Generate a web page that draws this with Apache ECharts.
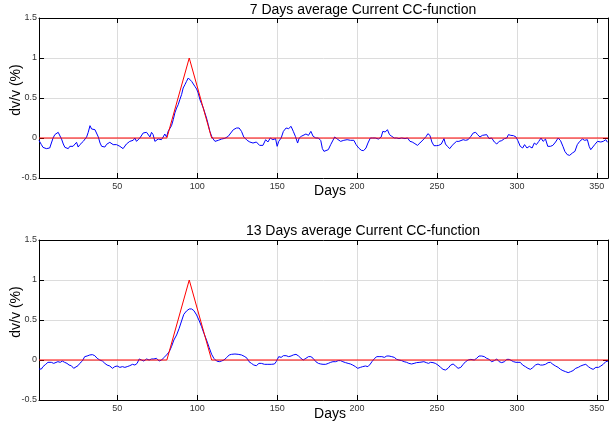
<!DOCTYPE html>
<html>
<head>
<meta charset="utf-8">
<script src="https://cdn.jsdelivr.net/npm/echarts@6/dist/echarts.min.js"></script>
<style>
html,body{margin:0;padding:0;background:#fff;}
#chart{width:609px;height:427px;}
</style>
</head>
<body>
<div id="chart"></div>
<script>
// ---- data ----
var titles = ['7 Days average Current CC-function', '13 Days average Current CC-function'];
var xLabel = 'Days';
var yLabel = 'dv/v (%)';
var xTicks = [50, 100, 150, 200, 250, 300, 350];
var yTicks = [-0.5, 0, 0.5, 1, 1.5];

var refDays = [1, 81, 95, 109, 357];
var refVals = [0, 0, 1, 0, 0];

var topDays = [1,2.5,3.5,5.6,7.7,8.8,9.8,10.9,13,14,15.1,16.2,17.2,19.3,20.3,21.4,22.3,23.4,24.5,25.5,26.6,28.7,30.8,31.8,32.9,33.9,36,37,38.1,39.2,40.2,41.1,42.2,43.3,44.3,45.3,46.3,47.4,49.5,50.5,51.6,52.6,53.6,54.7,55.7,56.8,57.8,58.9,59.9,61,62,63,64.1,65.1,66.2,67.2,68.3,69.3,70.4,71.4,72.4,73.5,74.5,75.6,76.6,77.6,78.7,79.7,80.8,81.8,82.9,83.9,85,86,87.1,88.1,89.1,90.2,91.2,92.3,93.3,94.4,95.4,96.5,97.5,98.5,99.6,100.6,101.7,102.7,103.8,104.8,105.8,106.9,107.9,109,110,111.1,112.1,113.2,114.2,115.2,116.3,117.3,118.4,119.4,120.5,121.5,122.6,124.6,126.2,127.7,129.1,130.2,131.2,132.9,134.9,137,139,140.1,141.1,142.8,144.2,145.7,147.3,149,150,151,152.5,153.9,155.6,157.2,158.7,160.1,161.4,162.8,163.8,165.1,166.3,168,169.6,171.1,172.5,174.2,175.8,177.3,178.3,179.3,180.4,182,183.5,184.5,186,187.6,189.7,191.7,193.8,195.9,198,199.4,201,202.7,204.1,205.6,206.8,208.3,209.7,211.4,213.4,215.1,216.1,217.6,219,220.3,221.7,223.3,224.8,226.2,227.9,230,231.6,233.1,234.5,236.2,237.8,239.3,240.1,241.8,243.3,244.3,245.6,246.8,248.1,249.6,251.1,252.7,254.4,255.3,256.5,258,259.5,260.7,262.2,263.7,264.9,266.4,267.9,269.5,271.2,272.7,274.2,275.4,276.9,278.4,279.6,281.1,282.6,284.2,285.9,287.4,288.9,290.5,292.2,293.7,294.7,296.2,297.9,299.4,300.6,302.1,303.6,304.8,306.3,307.8,309.5,310.9,312.2,313.7,315.1,316.4,317.9,319.3,321,322.5,324.2,325.8,327.3,328.8,330,331.5,333,334.7,336.3,337.8,339.3,341,342.4,344.1,345.2,346.2,347.3,348.7,350.4,351.4,352.5,354,355.6,356.7,357];
var topVals = [-0.03,-0.083,-0.117,-0.133,-0.125,-0.113,0,0.042,0.071,0.054,-0.013,-0.075,-0.117,-0.133,-0.104,-0.117,-0.104,-0.083,-0.054,-0.113,-0.083,-0.042,0.013,0.071,0.154,0.113,0.104,0.083,0.013,-0.063,-0.104,-0.096,-0.113,-0.079,-0.083,-0.054,-0.042,-0.083,-0.083,-0.104,-0.104,-0.083,-0.133,-0.113,-0.075,-0.054,-0.042,-0.063,-0.029,0,-0.042,-0.021,0,0.013,0.063,0.042,0.071,0.054,0.013,0.071,0.042,-0.042,-0.021,-0.013,-0.008,-0.021,0.013,0.05,0.013,0.083,0.104,0.154,0.229,0.313,0.375,0.417,0.479,0.542,0.625,0.667,0.708,0.75,0.738,0.708,0.688,0.646,0.613,0.563,0.479,0.429,0.375,0.313,0.25,0.167,0.083,0.021,-0.013,-0.042,-0.029,-0.029,-0.021,-0.013,-0.008,-0.004,0.013,0.021,0.05,0.063,0.104,0.125,0.125,0.083,0.013,0.013,-0.029,-0.05,-0.063,-0.05,-0.092,-0.117,-0.092,-0.021,-0.05,0,-0.021,-0.008,-0.104,-0.042,0,0.083,0.125,0.117,0.146,0.083,0.021,-0.063,0,0.021,0,0.05,0.033,0.083,0.021,0,0,-0.033,-0.133,-0.167,-0.146,-0.146,-0.083,-0.063,0.013,-0.013,-0.042,-0.029,-0.021,-0.029,-0.029,-0.083,-0.125,-0.154,-0.158,-0.125,-0.063,0,0,0,-0.013,0.013,0.083,0.075,0.104,0.042,0.021,0,0,-0.008,0,-0.008,0,-0.042,-0.05,-0.071,-0.092,-0.063,-0.042,-0.013,0.021,0.054,0.033,-0.05,-0.096,-0.096,-0.092,-0.075,-0.008,-0.075,-0.104,-0.133,-0.092,-0.117,-0.042,-0.042,-0.054,-0.021,-0.029,-0.021,0.021,0.063,0.071,0.042,0.013,0.033,0.029,0.042,-0.008,0,-0.05,-0.075,-0.042,-0.033,-0.008,0,0.042,0.033,0.029,0.013,-0.033,-0.104,-0.125,-0.083,-0.125,-0.104,-0.125,-0.063,-0.083,-0.042,0,-0.042,-0.013,-0.104,-0.104,-0.092,-0.05,0,-0.033,-0.104,-0.167,-0.208,-0.217,-0.188,-0.167,-0.083,-0.042,-0.013,-0.029,-0.021,-0.104,-0.146,-0.125,-0.083,-0.042,-0.054,-0.05,-0.042,-0.021,-0.054,-0.05];

var botDays = [1,2.5,3.5,5.2,6.6,8.7,10.2,11.4,12.8,14.3,15.6,17,18.5,19.8,21.2,22.7,23.9,25.4,26.5,28.1,29.6,31.1,32.8,34.4,35.9,37.4,39,40.7,42.2,43.6,45.3,47,48.4,49.9,51.6,53.2,54.7,56.2,57.8,59.5,61,62.4,63.7,65.1,66.6,68.3,69.9,71.4,72.9,74.5,76.2,77.7,79.1,80.8,82.5,83.9,85.4,87.1,88.7,90.2,91.6,93.3,95,96.5,97.9,99.6,101.3,102.7,104.2,105.8,107.5,109,110.4,112.1,113.8,115.2,116.7,118.4,120,121.5,123.6,125.6,127.7,129.8,131.2,132.4,133.9,135.4,137,138.6,140.1,142.1,144.2,146.3,148.3,149.4,151,152.5,153.9,155.6,157.2,158.7,160.1,161.8,163.4,164.9,166.3,168,169.6,171.1,172.5,174.2,175.8,177.3,178.7,180.4,182,183.5,184.9,186.6,188.2,189.7,191.1,192.8,194.4,195.9,197.3,199,200.4,202.1,203.5,205.2,206.8,208.3,209.3,211,212.4,213.8,215.5,217.1,218.6,220,221.7,223.3,224.8,226.2,227.9,229.5,231,232.4,234.1,235.7,237.2,239.3,241.8,243.3,244.7,246,247.5,249,250.6,252.3,253.8,255.3,256.9,258.6,260.1,261.6,263.2,264.9,266.4,267.9,269.5,271.2,272.1,273.3,274.8,276.3,278,279.6,281.1,282.6,284.2,285.9,287.4,288.9,290.5,292.2,293.7,295.2,296.4,297.9,299.4,300.6,302.1,303.6,305.3,306.9,308.4,309.9,311.6,313.2,314.7,316.2,317.9,319.5,321,322.5,324.2,325.8,327.3,328.8,330.5,332.1,333.6,335.1,336.8,338.4,339.9,341.4,343.1,344.7,346.2,347.7,349.4,351.1,352.5,354,355.6,357];
var botVals = [-0.113,-0.113,-0.083,-0.054,-0.029,-0.029,-0.042,-0.05,-0.021,-0.029,-0.013,-0.029,-0.042,-0.063,-0.071,-0.104,-0.113,-0.071,-0.042,-0.013,0.042,0.05,0.063,0.067,0.054,0.021,0,-0.013,-0.042,-0.063,-0.075,-0.104,-0.083,-0.075,-0.092,-0.083,-0.092,-0.083,-0.071,-0.054,-0.063,-0.042,0.013,0,-0.013,0.013,0,0.013,0.013,0.021,-0.013,0,0.029,0.063,0.104,0.167,0.25,0.313,0.396,0.488,0.571,0.613,0.638,0.638,0.617,0.563,0.488,0.417,0.333,0.25,0.154,0.071,0.021,-0.013,-0.021,-0.013,0,0.03,0.063,0.071,0.075,0.071,0.063,0.042,0.021,-0.021,-0.042,-0.063,-0.071,-0.042,-0.042,-0.054,-0.054,-0.054,-0.05,-0.021,0.042,0.033,0.054,0.054,0.042,0.05,0.063,0.071,0.05,0.021,0,0.021,0.042,0.042,0.021,-0.021,-0.042,-0.05,-0.054,-0.054,-0.042,-0.029,-0.021,-0.021,-0.008,-0.008,-0.021,-0.033,-0.042,-0.05,-0.063,-0.083,-0.104,-0.092,-0.083,-0.075,-0.083,-0.05,-0.021,0.021,0.042,0.042,0.042,0.033,0.05,0.05,0.042,0.033,0.008,0,-0.008,-0.021,-0.029,-0.042,-0.05,-0.042,-0.033,-0.029,-0.021,-0.033,-0.042,-0.029,-0.033,-0.042,-0.063,-0.092,-0.117,-0.125,-0.104,-0.063,-0.05,-0.075,-0.104,-0.092,-0.054,-0.021,0,0.008,-0.013,0,0.021,0.05,0.05,0.042,0.021,0.008,-0.021,-0.008,0.013,-0.021,-0.033,-0.021,0.008,0.008,0.013,-0.021,-0.029,-0.042,-0.029,-0.063,-0.083,-0.104,-0.117,-0.096,-0.063,-0.05,-0.063,-0.063,-0.054,-0.033,-0.029,-0.054,-0.075,-0.092,-0.117,-0.133,-0.146,-0.158,-0.146,-0.133,-0.104,-0.092,-0.075,-0.063,-0.054,-0.083,-0.104,-0.117,-0.092,-0.092,-0.075,-0.054,-0.021,-0.013];

function pairs(xs, ys) { return xs.map(function (x, i) { return [x, ys[i]]; }); }

var FONT = '"Liberation Sans", Arial, Helvetica, sans-serif';
var panels = [
  { top: 18, days: topDays, vals: topVals, titleY: 10, nameY: 191.5, ylabY: 90 },
  { top: 240, days: botDays, vals: botVals, titleY: 231.5, nameY: 414, ylabY: 312 }
];
var GRID_H = 160;

var grids = [], xAxes = [], yAxes = [], series = [], graphics = [];
panels.forEach(function (p, k) {
  grids.push({ left: 39, width: 569, top: p.top, height: GRID_H, containLabel: false });
  // bottom x axis (with labels)
  xAxes.push({
    type: 'value', gridIndex: k, position: 'bottom', min: 1, max: 357,
    minInterval: 50, maxInterval: 50, splitNumber: 7,
    axisLine: { show: true, onZero: false, lineStyle: { color: '#000', width: 1 } },
    axisTick: { show: true, inside: true, length: 5, lineStyle: { color: '#000' } },
    axisLabel: { show: true, margin: 4, fontSize: 9, color: '#333', fontFamily: FONT,
      showMinLabel: false, showMaxLabel: false,
      formatter: function (v) { return xTicks.indexOf(v) >= 0 ? String(v) : ''; } },
    splitLine: { show: true, lineStyle: { color: '#dcdcdc', width: 1 } }
  });
  // top x axis (frame)
  xAxes.push({
    type: 'value', gridIndex: k, position: 'top', min: 1, max: 357,
    minInterval: 50, maxInterval: 50, splitNumber: 7,
    axisLine: { show: true, onZero: false, lineStyle: { color: '#000', width: 1 } },
    axisTick: { show: true, inside: true, length: 5, lineStyle: { color: '#000' } },
    axisLabel: { show: false }, splitLine: { show: false }
  });
  yAxes.push({
    type: 'value', gridIndex: k, position: 'left', min: yTicks[0], max: yTicks[yTicks.length - 1], interval: 0.5,
    axisLine: { show: true, onZero: false, lineStyle: { color: '#000', width: 1 } },
    axisTick: { show: true, inside: true, length: 5, lineStyle: { color: '#000' } },
    axisLabel: { show: true, margin: 2, fontSize: 9, color: '#333', fontFamily: FONT },
    splitLine: { show: true, lineStyle: { color: '#dcdcdc', width: 1 } }
  });
  yAxes.push({
    type: 'value', gridIndex: k, position: 'right', min: yTicks[0], max: yTicks[yTicks.length - 1], interval: 0.5,
    axisLine: { show: true, onZero: false, lineStyle: { color: '#000', width: 1 } },
    axisTick: { show: true, inside: true, length: 5, lineStyle: { color: '#000' } },
    axisLabel: { show: false }, splitLine: { show: false }
  });
  series.push({
    type: 'line', xAxisIndex: 2 * k, yAxisIndex: 2 * k, data: pairs(p.days, p.vals),
    showSymbol: false, symbol: 'none', lineStyle: { color: '#0000ff', width: 1 }, z: 3, animation: false
  });
  series.push({
    type: 'line', xAxisIndex: 2 * k, yAxisIndex: 2 * k, data: pairs(refDays, refVals),
    showSymbol: false, symbol: 'none', lineStyle: { color: '#ff0000', width: 1 }, z: 4, animation: false
  });
  graphics.push({ type: 'text', x: 363, y: p.titleY,
    style: { text: titles[k], font: '14px ' + FONT, fill: '#000', align: 'center', verticalAlign: 'middle', textAlign: 'center', textVerticalAlign: 'middle' } });
  graphics.push({ type: 'text', x: 330, y: p.nameY,
    style: { text: xLabel, font: '14px ' + FONT, fill: '#000', align: 'center', verticalAlign: 'middle', textAlign: 'center', textVerticalAlign: 'middle' } });
  graphics.push({ type: 'text', x: 16, y: p.ylabY, rotation: Math.PI / 2,
    style: { text: yLabel, font: '14px ' + FONT, fill: '#000', align: 'center', verticalAlign: 'middle', textAlign: 'center', textVerticalAlign: 'middle' } });
});

var chart = echarts.init(document.getElementById('chart'), null, { renderer: 'canvas' });
chart.setOption({
  animation: false,
  backgroundColor: '#fff',
  grid: grids, xAxis: xAxes, yAxis: yAxes, series: series, graphic: graphics
});
</script>
</body>
</html>
